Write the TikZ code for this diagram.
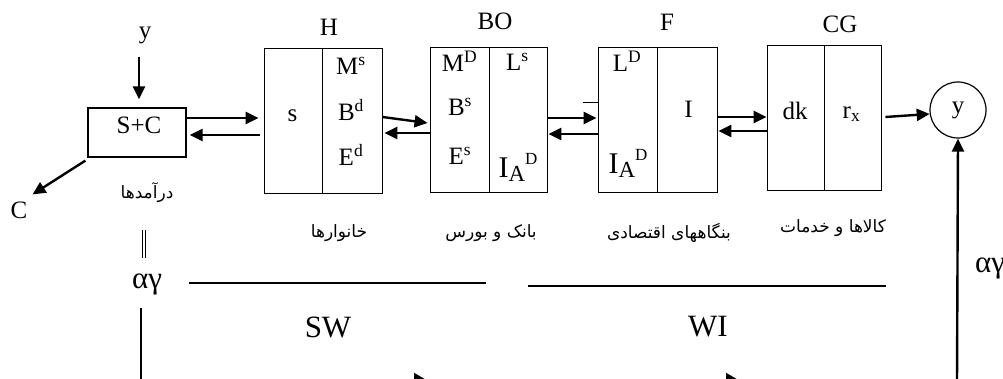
\documentclass[tikz,border=0pt]{standalone}
\usepackage{fontspec}
\setmainfont{Liberation Serif}
\newfontfamily\arabicfont[Script=Arabic]{DejaVu Sans}
\TeXXeTstate=1
\usetikzlibrary{positioning,arrows.meta,calc}

\newcommand{\IAD}{{\fontsize{30}{30}\selectfont I}{\fontsize{23}{23}\selectfont\raisebox{-4pt}{A}}{\fontsize{17}{17}\selectfont\raisebox{13pt}{D}}}

\tikzset{
    cell/.style={draw, line width=0.9pt, minimum height=145pt, inner sep=0pt},
    flow/.style={line width=2.4pt, -{Triangle[length=13pt,width=12pt]}},
    botflow/.style={line width=2pt, gray!40, -{Triangle[length=14pt,width=16pt,black]}},
    fa/.style={font=\arabicfont\fontsize{17}{20}\selectfont},
    big/.style={font=\fontsize{31}{34}\selectfont},
}

\begin{document}
\begin{tikzpicture}[x=1pt,y=-1pt,font=\fontsize{25}{28}\selectfont,inner sep=1pt]
            \useasboundingbox (0,0) rectangle (1003,379);

            \node[draw, line width=1.2pt, minimum width=98pt, minimum height=49pt] (SC) at (137,132.5) {};
            \node (sc)    at (139,125)   {S+C};
            \node (ylbl)  at (145,35)    {y};
            \node (Clbl)  at (19,210)    {C};

            \node[cell, minimum width=58pt] (Hs)  at (293,120.5)   {};
            \node[cell, minimum width=60pt] (Hr)  at (352,120.5)   {};
            \node[cell, minimum width=59pt] (BOl) at (459.5,119.5) {};
            \node[cell, minimum width=58pt] (BOr) at (518,119.5)   {};
            \node[cell, minimum width=59pt] (Fl)  at (627.5,119.5) {};
            \node[cell, minimum width=60pt] (Fr)  at (687,119.5)   {};
            \node[cell, minimum width=57pt] (CGl) at (795.5,118)   {};
            \node[cell, minimum width=57pt] (CGr) at (852.5,118)   {};
            \node[draw, circle, line width=1.2pt, minimum size=56pt, inner sep=0pt] (yc) at (958,110) {y};

            \node (H)     at (329,27.5)  {H};
            \node (BO)    at (495,21.5)  {BO};
            \node (F)     at (667,22)    {F};
            \node (CG)    at (840,24)    {CG};

            \node (Hs1)   at (292.5,116) {s};
            \node (Hms)   at (351,65.5)  {M\textsuperscript{s}};
            \node (Hbd)   at (351,110)   {B\textsuperscript{d}};
            \node (Hed)   at (351,155)   {E\textsuperscript{d}};

            \node (BOmd)  at (459.5,61)  {M\textsuperscript{D}};
            \node (BObs)  at (460,107)   {B\textsuperscript{s}};
            \node (BOes)  at (460,156)   {E\textsuperscript{s}};
            \node (BOls)  at (517.5,62)  {L\textsuperscript{s}};
            \node (BOia)  at (518,167)   {\IAD};

            \node (Fld)   at (627,61.5)  {L\textsuperscript{D}};
            \node (Fia)   at (628,163.5) {\IAD};
            \node (Fi)    at (688.5,109) {I};

            \node (CGdk)  at (795,110.5) {dk};
            \node (CGrx)  at (851.5,114) {r\textsubscript{x}};

            \node[fa] (dar) at (147,193) {\beginR درآمدها\endR};
            \node[fa] (hh)  at (339,233) {\beginR خانوارها\endR};
            \node[fa] (bb)  at (491,233) {\beginR بانک و بورس\endR};
            \node[fa] (bn)  at (669,233) {\beginR بنگاههای اقتصادی\endR};
            \node[fa] (kk)  at (833,228) {\beginR کالاها و خدمات\endR};

            \node[big] (agL) at (147,284)  {αγ};
            \node[big] (agR) at (990,268)  {αγ};
            \node[big] (SW)  at (328,327)  {SW};
            \node[big] (WI)  at (708,327)  {WI};

            \coordinate (dblT) at (144,230);
            \coordinate (dblB) at (144,258);
            \coordinate (vL)   at (141,308);
            \coordinate (bL)   at (141,381);
            \coordinate (bR)   at (957,381);

            \draw[flow, shorten <=12pt, shorten >=8pt] ([xshift=2pt]ylbl.south -| SC.north) -- ([xshift=2pt]SC.north);
            \draw[flow] ([shift={(-2,3)}]SC.south west) -- ([shift={(4,-6)}]Clbl.north east);
            \draw[flow] ([yshift=14.5]SC.east) -- ([xshift=-5,yshift=2.5]Hs.west);
            \draw[flow] ([xshift=-4,yshift=-14.5]Hs.west) -- ([xshift=3,yshift=-2.5]SC.east);
            \draw[flow] ([yshift=3.5]Hr.east) -- ([xshift=-2,yshift=-3.5]BOl.west);
            \draw[flow] ([yshift=-13.5]BOl.west) -- ([xshift=2,yshift=-12.5]Hr.east);
            \draw[flow] ([yshift=1.5]BOr.east) -- ([xshift=-1,yshift=1.5]Fl.west);
            \draw[flow] ([yshift=-14.5]Fl.west) -- ([xshift=1,yshift=-14.5]BOr.east);
            \draw[line width=1pt] ([yshift=16.5]Fl.west) -- ++(-15,0);
            \draw[flow] ([yshift=2.5]Fr.east) -- ([yshift=1]CGl.west);
            \draw[flow] ([yshift=-13]CGl.west) -- ([xshift=1,yshift=-11.5]Fr.east);
            \draw[flow] ([xshift=4,yshift=1]CGr.east) -- (yc.188);
            \draw[flow] (bR) -- (yc.south);

            \draw[double, line width=0.9pt, double distance=2.6pt] (dblT) -- (dblB);
            \draw[line width=1.5pt] (vL) -- (bL);

            \draw[line width=1.5pt] (189,283) -- (486,283);
            \draw[line width=1.5pt] (528,286) -- (886,286);

            \draw[botflow] (bL) -- (428,381);
            \draw[botflow] (428,381) -- (740,381);
            \draw[line width=2pt, gray!40] (740,381) -- (bR);
        \end{tikzpicture}
\end{document}
